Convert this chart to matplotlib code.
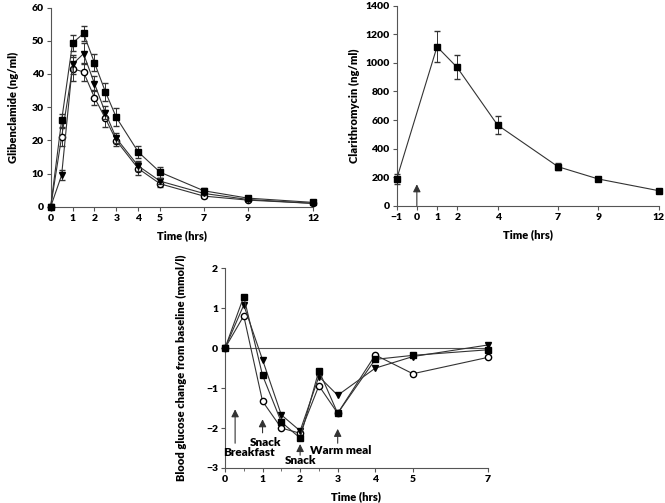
import numpy as np
import matplotlib
matplotlib.use('Agg')
import matplotlib.pyplot as plt

plt.rcParams['font.family'] = ['Lato', 'DejaVu Sans']
plt.rcParams['font.weight'] = 'heavy'
plt.rcParams['axes.labelweight'] = 'heavy'

# glibenclamide (ng/ml)
gli_time = [0, 0.5, 1, 1.5, 2, 2.5, 3, 4, 5, 7, 9, 12]
gli_sq = [0, 26.0, 49.3, 52.2, 43.4, 34.6, 26.9, 16.5, 10.4, 4.8, 2.6, 1.3]
gli_sq_err = [0, 2.0, 2.5, 2.2, 2.6, 2.7, 2.7, 1.8, 1.6, 0.7, 0.5, 0.3]
gli_tri = [0, 9.5, 42.9, 46.1, 37.1, 28.3, 20.6, 12.3, 7.7, 4.0, 2.2, 1.0]
gli_tri_err = [0, 1.5, 2.8, 3.2, 2.3, 2.0, 1.5, 1.5, 1.0, 0.6, 0.4, 0.3]
gli_circ = [0, 21.0, 41.6, 40.6, 32.9, 26.6, 19.9, 11.5, 6.9, 3.2, 2.0, 1.0]
gli_circ_err = [0, 2.6, 3.6, 2.8, 2.3, 2.6, 1.5, 2.0, 1.0, 0.6, 0.4, 0.3]

# clarithromycin (ng/ml)
cla_time = [-1, 1, 2, 4, 7, 9, 12]
cla = [187, 1113, 968, 565, 273, 187, 105]
cla_err = [38, 108, 84, 60, 25, 10, 6]

# blood glucose change (mmol/l)
glu_time = [0, 0.5, 1, 1.5, 2, 2.5, 3, 4, 5, 7]
glu_sq = [0, 1.29, -0.68, -1.85, -2.25, -0.56, -1.63, -0.28, -0.18, -0.04]
glu_tri = [0, 1.08, -0.29, -1.67, -2.07, -0.71, -1.18, -0.50, -0.21, 0.08]
glu_circ = [0, 0.81, -1.33, -2.00, -2.13, -0.94, -1.63, -0.17, -0.64, -0.23]

meal_labels = ['Breakfast', 'Snack', 'Snack', 'Warm meal']
meal_x = [0.27, 1, 2, 3]
meal_arrow = [(-2.38, -1.53), (-2.12, -1.78), (-2.68, -2.40), (-2.38, -2.02)]
meal_text = [(0.65, -2.6), (1.09, -2.35), (2.02, -2.81), (3.08, -2.57)]

fig = plt.figure(figsize=(6.65, 5.03), dpi=100)
ax1 = fig.add_axes([0.0762, 0.589, 0.395, 0.396])
ax2 = fig.add_axes([0.5965, 0.591, 0.3944, 0.3976])
ax3 = fig.add_axes([0.3383, 0.0696, 0.3955, 0.397])

def style(ax):
    for s in ['top', 'right']:
        ax.spines[s].set_visible(False)
    for s in ['left', 'bottom']:
        ax.spines[s].set_color('#555555')
        ax.spines[s].set_linewidth(0.8)
    ax.tick_params(direction='out', length=3, width=0.8, color='#555555', labelsize=7.5, pad=2)
    ax.tick_params(which='minor', direction='out', length=2, width=0.6, color='#555555')
    for lab in ax.get_xticklabels() + ax.get_yticklabels():
        lab.set_fontweight('heavy')

arrow_props = dict(arrowstyle='-|>,head_length=0.5,head_width=0.25', color='#333333', lw=0.8,
                   mutation_scale=9, shrinkA=0, shrinkB=0)

lc = '#333333'
ms = 4.5
# panel 1
ax1.errorbar(gli_time, gli_circ, yerr=gli_circ_err, color=lc, lw=0.8, marker='o', mfc='white',
             mec='black', ms=ms, capsize=2.5, elinewidth=0.7, zorder=3, clip_on=False)
ax1.errorbar(gli_time, gli_tri, yerr=gli_tri_err, color=lc, lw=0.8, marker='v', mfc='black',
             mec='black', ms=ms, capsize=2.5, elinewidth=0.7, zorder=4, clip_on=False)
ax1.errorbar(gli_time, gli_sq, yerr=gli_sq_err, color=lc, lw=0.8, marker='s', mfc='black',
             mec='black', ms=ms, capsize=2.5, elinewidth=0.7, zorder=5, clip_on=False)
ax1.set_xlim(0, 12)
ax1.set_ylim(0, 60)
ax1.set_xticks([0, 1, 2, 3, 4, 5, 7, 9, 12])
ax1.set_yticks(range(0, 61, 10))
ax1.set_xlabel('Time (hrs)', fontsize=8, labelpad=5)
ax1.set_ylabel('Glibenclamide (ng/ml)', fontsize=8, labelpad=9)
style(ax1)

# panel 2
ax2.errorbar(cla_time, cla, yerr=cla_err, color=lc, lw=0.8, marker='s', mfc='black',
             mec='black', ms=ms, capsize=2.5, elinewidth=0.7, zorder=5, clip_on=False)
ax2.annotate('', xy=(0, 150), xytext=(0, 0), arrowprops=arrow_props)
ax2.set_xlim(-1, 12)
ax2.set_ylim(0, 1400)
ax2.set_xticks([-1, 0, 1, 2, 4, 7, 9, 12])
ax2.set_xticklabels(['\u22121', '0', '1', '2', '4', '7', '9', '12'])
ax2.set_yticks(range(0, 1401, 200))
ax2.set_xlabel('Time (hrs)', fontsize=8, labelpad=5)
ax2.set_ylabel('Clarithromycin (ng/ml)', fontsize=8, labelpad=4)
style(ax2)

# panel 3
ax3.plot([0, 7], [0, 0], color='#555555', lw=0.8, zorder=1)
ax3.plot(glu_time, glu_circ, color=lc, lw=0.8, marker='o', mfc='white', mec='black', ms=ms, zorder=3, clip_on=False)
ax3.plot(glu_time, glu_tri, color=lc, lw=0.8, marker='v', mfc='black', mec='black', ms=ms, zorder=4, clip_on=False)
ax3.plot(glu_time, glu_sq, color=lc, lw=0.8, marker='s', mfc='black', mec='black', ms=ms, zorder=5, clip_on=False)
for lab, x, (y0, y1), (tx, ty) in zip(meal_labels, meal_x, meal_arrow, meal_text):
    ax3.annotate('', xy=(x, y1), xytext=(x, y0), arrowprops=arrow_props)
    ax3.text(tx, ty, lab, ha='center', va='center', fontsize=8.5, fontweight='heavy')
ax3.set_xlim(0, 7)
ax3.set_ylim(-3, 2)
ax3.set_xticks([0, 1, 2, 3, 4, 5, 7])
ax3.set_xticks([0.5, 1.5, 2.5], minor=True)
ax3.set_yticks([-3, -2, -1, 0, 1, 2])
ax3.set_yticklabels(['\u22123', '\u22122', '\u22121', '0', '1', '2'])
ax3.set_xlabel('Time (hrs)', fontsize=8, labelpad=5)
ax3.set_ylabel('Blood glucose change from baseline (mmol/l)', fontsize=8, labelpad=14)
style(ax3)

fig.savefig('out.png', dpi=100)
